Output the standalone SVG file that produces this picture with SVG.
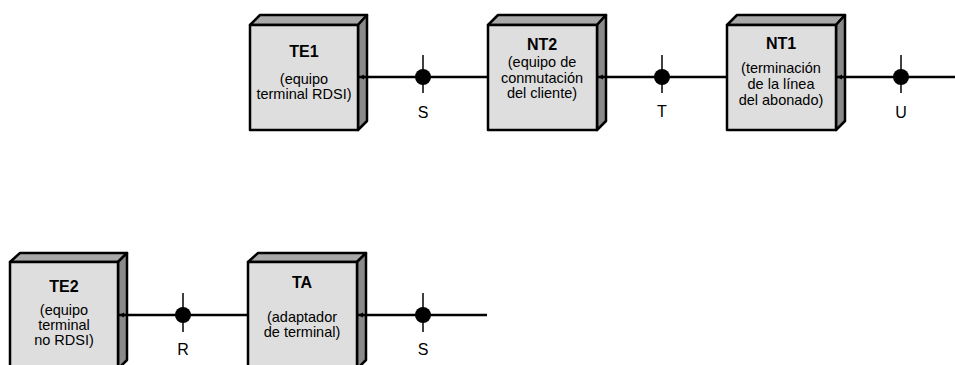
<svg xmlns="http://www.w3.org/2000/svg" width="955" height="365" viewBox="0 0 955 365">
<style>
.face{fill:#dedede;stroke:#000;stroke-width:2.5;stroke-linejoin:round}
.top{fill:#a9a9a9;stroke:#000;stroke-width:2.5;stroke-linejoin:round}
.side{fill:#8a8a8a;stroke:#000;stroke-width:2.5;stroke-linejoin:round}
.title{font-family:"Liberation Sans",Arial,sans-serif;font-weight:bold;font-size:16px;text-anchor:middle;fill:#000}
.sub{font-family:"Liberation Sans",Arial,sans-serif;font-size:14.5px;text-anchor:middle;fill:#000}
.lbl{font-family:"Liberation Sans",Arial,sans-serif;font-size:16px;text-anchor:middle;fill:#000}
.wire{stroke:#000;stroke-width:2.5;fill:none}
.tick{stroke:#000;stroke-width:1.5}
</style>
<defs>
<marker id="arr" markerUnits="userSpaceOnUse" markerWidth="6" markerHeight="6" refX="5" refY="3" orient="auto">
<path d="M0,0.5 L5,3 L0,5.5 Z" fill="#000"/>
</marker>
</defs>

<g id="TE1">
<polygon class="top" points="250,25 260,15 367,15 358,25"/>
<polygon class="side" points="358,25 367,15 367,121 358,130"/>
<rect class="face" x="250" y="25" width="108" height="105"/>
<text class="title" x="304" y="57">TE1</text>
<text class="sub" x="304" y="84">(equipo</text>
<text class="sub" x="304" y="99">terminal RDSI)</text>
</g>

<g id="NT2">
<polygon class="top" points="488,25 498,15 606,15 597,25"/>
<polygon class="side" points="597,25 606,15 606,121 597,130"/>
<rect class="face" x="488" y="25" width="109" height="105"/>
<text class="title" x="542" y="50">NT2</text>
<text class="sub" x="542" y="67">(equipo de</text>
<text class="sub" x="542" y="83">conmutación</text>
<text class="sub" x="542" y="98">del cliente)</text>
</g>

<g id="NT1">
<polygon class="top" points="727,25 737,15 845,15 836,25"/>
<polygon class="side" points="836,25 845,15 845,121 836,130"/>
<rect class="face" x="727" y="25" width="109" height="105"/>
<text class="title" x="781" y="49">NT1</text>
<text class="sub" x="781" y="73">(terminación</text>
<text class="sub" x="781" y="89">de la línea</text>
<text class="sub" x="781" y="105">del abonado)</text>
</g>

<g id="TE2">
<polygon class="top" points="10,262 20,253 127,253 118,262"/>
<polygon class="side" points="118,262 127,253 127,360 118,369"/>
<rect class="face" x="10" y="262" width="108" height="107"/>
<text class="title" x="64" y="292">TE2</text>
<text class="sub" x="64" y="315">(equipo</text>
<text class="sub" x="64" y="330">terminal</text>
<text class="sub" x="64" y="345">no RDSI)</text>
</g>

<g id="TA">
<polygon class="top" points="248,262 258,253 366,253 357,262"/>
<polygon class="side" points="357,262 366,253 366,360 357,369"/>
<rect class="face" x="248" y="262" width="109" height="107"/>
<text class="title" x="302" y="288">TA</text>
<text class="sub" x="302" y="322">(adaptador</text>
<text class="sub" x="302" y="337">de terminal)</text>
</g>

<g id="connectors">
<line class="wire" x1="488" y1="77" x2="359" y2="77" marker-end="url(#arr)"/>
<line class="wire" x1="727" y1="77" x2="598" y2="77" marker-end="url(#arr)"/>
<line class="wire" x1="955" y1="77" x2="837" y2="77" marker-end="url(#arr)"/>
<line class="wire" x1="248" y1="315" x2="119" y2="315" marker-end="url(#arr)"/>
<line class="wire" x1="487" y1="315" x2="358" y2="315" marker-end="url(#arr)"/>
</g>

<g id="ref-points">
<line class="tick" x1="423" y1="55" x2="423" y2="93"/><circle cx="423" cy="77" r="8"/>
<text class="lbl" x="423" y="118">S</text>
<line class="tick" x1="662" y1="55" x2="662" y2="93"/><circle cx="662" cy="77" r="8"/>
<text class="lbl" x="662" y="117">T</text>
<line class="tick" x1="901" y1="55" x2="901" y2="93"/><circle cx="901" cy="77" r="8"/>
<text class="lbl" x="901" y="118">U</text>
<line class="tick" x1="183" y1="293" x2="183" y2="332"/><circle cx="183" cy="315" r="8"/>
<text class="lbl" x="183" y="355">R</text>
<line class="tick" x1="423" y1="293" x2="423" y2="332"/><circle cx="423" cy="315" r="8"/>
<text class="lbl" x="423" y="355">S</text>
</g>
</svg>
